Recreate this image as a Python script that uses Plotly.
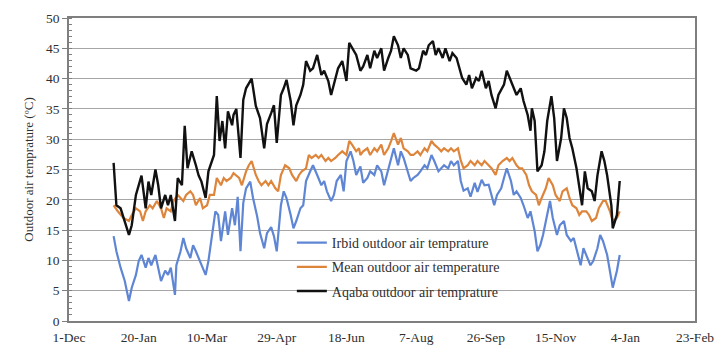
import pandas as pd
import plotly.graph_objects as go

# Day offsets from 1 Jan 2019 and temperatures (deg C)
aqaba_day = [1, 3, 6, 8, 12, 14, 17, 21, 24, 26, 28, 31, 33, 35, 38, 40, 42, 45, 47, 50,
             52, 54, 57, 60, 62, 64, 67, 69, 73, 75, 77, 79, 81, 83, 86, 87, 89, 92, 94, 96,
             100, 103, 106, 109, 111, 114, 116, 118, 121, 123, 125, 128, 130, 132, 135, 137,
             139, 142, 144, 147, 150, 152, 155, 157, 160, 162, 165, 168, 170, 172, 175, 178,
             180, 183, 185, 188, 190, 193, 195, 198, 200, 202, 205, 207, 209, 212, 214, 218,
             220, 223, 225, 227, 230, 232, 234, 237, 239, 242, 244, 247, 249, 251, 254, 256,
             258, 261, 263, 265, 268, 270, 272, 275, 277, 281, 283, 286, 288, 290, 293, 295,
             298, 300, 301, 303, 305, 308, 310, 312, 315, 317, 319, 322, 324, 326, 328, 330,
             333, 335, 337, 339, 341, 344, 346, 348, 351, 353, 355, 358, 359, 362, 364]
aqaba_temp = [26.1, 19.1, 18.6, 17.0, 14.2, 15.8, 20.8, 24.0, 18.6, 23.0, 20.8, 25.0, 22.4,
              18.6, 20.8, 19.1, 20.8, 16.5, 23.6, 22.4, 32.2, 25.2, 28.0, 25.7, 24.0, 23.0,
              20.3, 24.7, 27.4, 37.1, 29.7, 33.0, 28.5, 34.6, 32.3, 34.0, 35.0, 26.9, 36.5,
              38.4, 40.0, 35.5, 33.5, 28.5, 32.5, 34.3, 35.6, 29.4, 37.3, 38.4, 39.8, 36.3,
              32.3, 35.6, 37.3, 39.0, 42.9, 41.3, 41.7, 43.9, 40.6, 41.3, 39.6, 37.3, 40.0,
              41.7, 42.9, 39.6, 45.9, 45.0, 43.9, 41.3, 42.0, 43.9, 41.7, 44.6, 43.4, 45.0,
              41.3, 43.4, 44.6, 47.0, 45.5, 43.4, 45.0, 43.9, 41.7, 41.3, 41.7, 44.6, 43.9,
              45.5, 46.2, 43.9, 45.0, 43.4, 45.0, 42.9, 44.2, 43.4, 41.7, 40.1, 39.0, 40.6,
              38.4, 40.1, 39.6, 41.3, 38.4, 39.6, 37.3, 35.1, 37.3, 39.0, 41.3, 39.6, 38.4,
              37.3, 38.4, 36.3, 34.0, 31.4, 35.1, 33.0, 24.7, 25.7, 28.0, 33.0, 37.1, 33.5,
              26.4, 30.2, 35.1, 33.5, 30.2, 28.5, 25.2, 22.4, 19.1, 24.7, 21.9, 21.4, 19.8,
              24.0, 28.0, 26.4, 24.0, 19.1, 15.3, 17.5, 23.1]

mean_day = [1, 4, 8, 12, 14, 17, 20, 22, 24, 27, 29, 32, 35, 37, 39, 42, 44, 47, 51, 53,
            56, 58, 60, 63, 65, 68, 70, 73, 75, 78, 80, 82, 85, 87, 91, 93, 96, 98, 100, 103,
            105, 107, 110, 112, 114, 117, 119, 121, 124, 127, 129, 132, 134, 136, 139, 141,
            143, 146, 148, 150, 153, 155, 157, 160, 162, 165, 168, 170, 172, 175, 177, 178,
            180, 183, 185, 188, 190, 193, 195, 198, 200, 202, 205, 207, 209, 212, 214, 216,
            219, 221, 224, 226, 229, 231, 234, 236, 238, 241, 243, 245, 248, 250, 252, 255,
            257, 260, 262, 265, 267, 270, 272, 275, 277, 280, 283, 285, 287, 290, 292, 294,
            297, 299, 301, 304, 306, 308, 311, 313, 316, 318, 321, 323, 326, 328, 330, 333,
            335, 337, 340, 342, 344, 347, 349, 352, 354, 357, 359, 362, 364]
mean_temp = [19.1, 18.1, 17.0, 16.5, 17.5, 18.6, 18.1, 16.5, 18.1, 19.1, 18.6, 19.8, 18.6,
             17.0, 18.6, 18.1, 19.8, 20.8, 19.8, 20.8, 21.4, 20.8, 19.1, 20.3, 18.6, 19.1,
             20.8, 20.8, 23.6, 22.4, 23.6, 23.1, 23.6, 24.4, 23.6, 22.4, 24.7, 25.7, 26.4,
             24.1, 23.1, 22.4, 23.1, 22.4, 23.1, 21.9, 21.4, 24.1, 25.7, 25.2, 24.1, 23.1,
             24.1, 24.7, 25.2, 27.4, 26.9, 27.4, 26.9, 27.4, 26.4, 26.9, 26.4, 26.9, 27.4,
             28.0, 27.4, 29.7, 29.1, 28.0, 28.5, 27.4, 28.0, 28.5, 27.4, 28.5, 28.0, 29.1,
             27.4, 28.5, 29.7, 31.0, 29.1, 30.2, 28.5, 28.0, 27.4, 27.4, 28.0, 27.4, 28.5,
             28.0, 29.7, 29.1, 28.5, 28.0, 28.5, 28.0, 28.5, 28.0, 28.5, 26.5, 25.2, 25.7,
             26.4, 25.7, 26.4, 25.7, 26.4, 25.7, 25.2, 24.1, 25.7, 26.4, 26.9, 26.4, 26.9,
             25.7, 25.2, 25.2, 24.1, 22.4, 21.4, 20.8, 19.1, 20.3, 21.9, 23.6, 22.4, 20.8,
             19.8, 21.4, 21.9, 20.3, 19.1, 18.6, 17.5, 18.1, 18.1, 17.5, 16.5, 17.0, 18.6,
             19.8, 19.8, 18.1, 16.5, 17.0, 18.1]

irbid_day = [1, 3, 6, 9, 12, 14, 17, 19, 21, 24, 26, 28, 31, 33, 35, 38, 40, 42, 45, 46,
             49, 51, 53, 56, 58, 60, 63, 65, 67, 69, 71, 74, 76, 78, 81, 83, 86, 88, 90, 92,
             94, 96, 99, 101, 104, 106, 109, 111, 114, 116, 118, 121, 123, 125, 128, 130,
             132, 135, 137, 139, 142, 144, 147, 150, 152, 154, 157, 159, 161, 164, 166, 168,
             171, 173, 175, 178, 180, 183, 185, 188, 190, 193, 195, 198, 200, 202, 205, 207,
             209, 212, 214, 216, 219, 221, 224, 226, 229, 231, 234, 236, 238, 241, 243, 245,
             248, 250, 252, 255, 257, 260, 262, 265, 267, 270, 272, 274, 276, 279, 281, 283,
             286, 288, 290, 293, 295, 298, 300, 303, 305, 307, 309, 312, 314, 316, 319, 321,
             324, 326, 329, 331, 334, 336, 338, 341, 343, 345, 348, 350, 352, 355, 357, 359,
             362, 364]
irbid_temp = [14.0, 11.5, 8.8, 6.6, 3.3, 5.5, 7.6, 9.9, 10.9, 8.8, 10.4, 9.2, 10.9, 8.8,
              6.6, 8.3, 7.6, 8.8, 4.3, 9.2, 11.5, 13.7, 12.0, 10.4, 12.5, 11.5, 9.9, 8.8,
              7.6, 9.9, 13.2, 18.1, 17.5, 13.2, 18.1, 14.2, 18.6, 15.8, 20.5, 11.5, 19.5,
              21.9, 23.0, 20.3, 17.2, 14.5, 12.0, 14.5, 15.5, 14.0, 11.5, 19.1, 21.4, 20.3,
              17.5, 15.3, 16.5, 18.6, 19.1, 23.1, 24.7, 25.7, 24.1, 22.4, 23.1, 21.4, 19.8,
              20.8, 23.1, 24.1, 21.4, 26.4, 28.0, 26.4, 24.1, 25.5, 22.8, 23.6, 24.7, 24.1,
              25.7, 24.7, 22.4, 25.2, 26.9, 28.5, 25.7, 28.0, 26.9, 24.7, 23.1, 23.6, 24.1,
              24.7, 25.7, 25.2, 27.4, 26.4, 24.7, 25.2, 25.7, 25.2, 26.4, 25.7, 26.4, 23.1,
              21.5, 21.9, 20.5, 22.8, 21.3, 23.3, 22.4, 22.5, 20.8, 19.1, 20.8, 21.9, 23.6,
              25.2, 23.1, 20.8, 21.4, 20.3, 19.1, 17.0, 18.1, 14.8, 11.5, 12.5, 14.2, 17.5,
              19.8, 17.0, 14.2, 15.8, 16.5, 14.2, 13.2, 13.7, 10.9, 9.2, 12.0, 10.4, 9.2,
              9.9, 12.0, 14.2, 13.2, 10.9, 8.3, 5.5, 8.3, 10.9]

tick_dates = ["2018-12-01", "2019-01-20", "2019-03-10", "2019-04-29", "2019-06-18",
              "2019-08-07", "2019-09-26", "2019-11-15", "2020-01-04", "2020-02-23"]
tick_labels = ["1-Dec", "20-Jan", "10-Mar", "29-Apr", "18-Jun", "7-Aug", "26-Sep",
               "15-Nov", "4-Jan", "23-Feb"]

start = pd.Timestamp("2019-01-01")


def to_dates(days):
    return [start + pd.Timedelta(days=d) for d in days]


FONT = "Liberation Serif"
TXT = "#2F2F2F"

fig = go.Figure()
fig.add_trace(go.Scatter(x=to_dates(irbid_day), y=irbid_temp, mode="lines",
                         name="Irbid outdoor air temprature", legendgroup="a",
                         line=dict(color="#5F86D4", width=2.2)))
fig.add_trace(go.Scatter(x=to_dates(mean_day), y=mean_temp, mode="lines",
                         name="Mean outdoor air temperature", legendgroup="b",
                         line=dict(color="#DE853C", width=2.2)))
fig.add_trace(go.Scatter(x=to_dates(aqaba_day), y=aqaba_temp, mode="lines",
                         name="Aqaba outdoor air temprature", legendgroup="c",
                         line=dict(color="#111111", width=2.4)))

fig.update_layout(
    width=726, height=345,
    margin=dict(l=61, r=39, t=10, b=32),
    paper_bgcolor="white", plot_bgcolor="white",
    font=dict(family=FONT, size=13, color=TXT),
    showlegend=True,
    legend=dict(x=0.356, y=0.31, xanchor="left", yanchor="top",
                bgcolor="rgba(0,0,0,0)", font=dict(family=FONT, size=14, color=TXT),
                tracegroupgap=3, itemwidth=30),
)
fig.update_xaxes(
    type="date", range=[tick_dates[0], tick_dates[-1]],
    tickmode="array", tickvals=tick_dates, ticktext=tick_labels,
    showgrid=False, showline=True, linecolor="#7F7F7F", linewidth=1.5, mirror=True,
    ticks="", ticklabelstandoff=3, automargin=False,
    tickfont=dict(family=FONT, size=13.5, color=TXT), zeroline=False,
)
fig.update_yaxes(
    range=[0, 50], dtick=5, showgrid=True, gridcolor="#A6A6A6", gridwidth=1.3,
    showline=True, linecolor="#7F7F7F", linewidth=1.5, mirror=True,
    ticks="outside", ticklen=5, tickcolor="#7F7F7F", automargin=False,
    minor=dict(dtick=1, ticks="inside", ticklen=3, tickcolor="#7F7F7F", showgrid=False),
    tickfont=dict(family=FONT, size=13.5, color=TXT), zeroline=False,
    title=dict(text="Outdoor air temprature (ºC)", font=dict(family=FONT, size=13, color=TXT),
               standoff=9),
)

fig.write_html("out.html")
